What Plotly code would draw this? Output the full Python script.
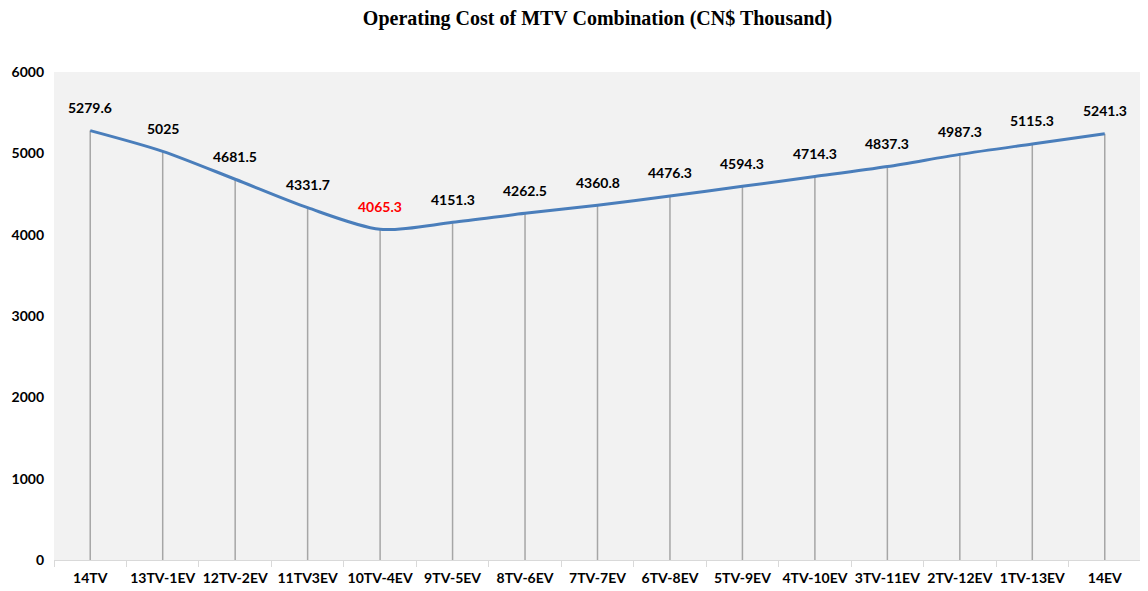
import plotly.graph_objects as go

categories = ["14TV", "13TV-1EV", "12TV-2EV", "11TV3EV", "10TV-4EV", "9TV-5EV", "8TV-6EV",
              "7TV-7EV", "6TV-8EV", "5TV-9EV", "4TV-10EV", "3TV-11EV", "2TV-12EV", "1TV-13EV", "14EV"]
costs = [5279.6, 5025, 4681.5, 4331.7, 4065.3, 4151.3, 4262.5, 4360.8, 4476.3, 4594.3,
         4714.3, 4837.3, 4987.3, 5115.3, 5241.3]
label_texts = ["5279.6", "5025", "4681.5", "4331.7", "4065.3", "4151.3", "4262.5", "4360.8",
               "4476.3", "4594.3", "4714.3", "4837.3", "4987.3", "5115.3", "5241.3"]
y_ticks = [0, 1000, 2000, 3000, 4000, 5000, 6000]

min_idx = costs.index(min(costs))

# drop lines built from data
drop_x, drop_y = [], []
for c, v in zip(categories, costs):
    drop_x += [c, c, None]
    drop_y += [0, v, None]

fig = go.Figure()
fig.add_trace(go.Scatter(x=drop_x, y=drop_y, mode="lines",
                         line=dict(color="#a6a6a6", width=1.5), hoverinfo="skip", showlegend=False))
fig.add_trace(go.Scatter(x=categories, y=costs, mode="lines",
                         line=dict(color="#4a7ebb", width=3, shape="spline", smoothing=0.8),
                         showlegend=False))

for i, (c, v, t) in enumerate(zip(categories, costs, label_texts)):
    fig.add_annotation(x=c, y=v, text=t, showarrow=False, yanchor="middle", yshift=23,
                       font=dict(family="Lato", size=14, weight="bold",
                                 color="#ff0000" if i == min_idx else "#000000"))

fig.update_layout(
    width=1140, height=583,
    margin=dict(l=46, r=7, t=64, b=31),
    paper_bgcolor="white", plot_bgcolor="#f2f2f2",
    title=dict(text="<b>Operating Cost of MTV Combination (CN$ Thousand)</b>",
               font=dict(family="Liberation Serif", size=20, color="black"),
               x=0.5, xanchor="center", xref="paper", y=1 - 10 / 583, yanchor="middle"),
    font=dict(family="Lato", size=14, color="black"),
)
fig.update_xaxes(type="category", categoryorder="array", categoryarray=categories,
                 showgrid=False, showline=True, linecolor="#d9d9d9", linewidth=1,
                 ticks="outside", tickson="boundaries", ticklen=6, tickcolor="#d9d9d9",
                 tickangle=0,
                 tickfont=dict(family="Lato", size=14, color="black", weight="bold"),
                 range=[-0.5, len(categories) - 0.5], ticklabelstandoff=5, automargin=False)
fig.update_yaxes(range=[0, 6000], tickvals=y_ticks, showgrid=False, zeroline=False,
                 showline=False, ticks="", ticklabelstandoff=9, automargin=False,
                 tickfont=dict(family="Lato", size=14, color="black", weight="bold"))

fig.write_html("out.html")
